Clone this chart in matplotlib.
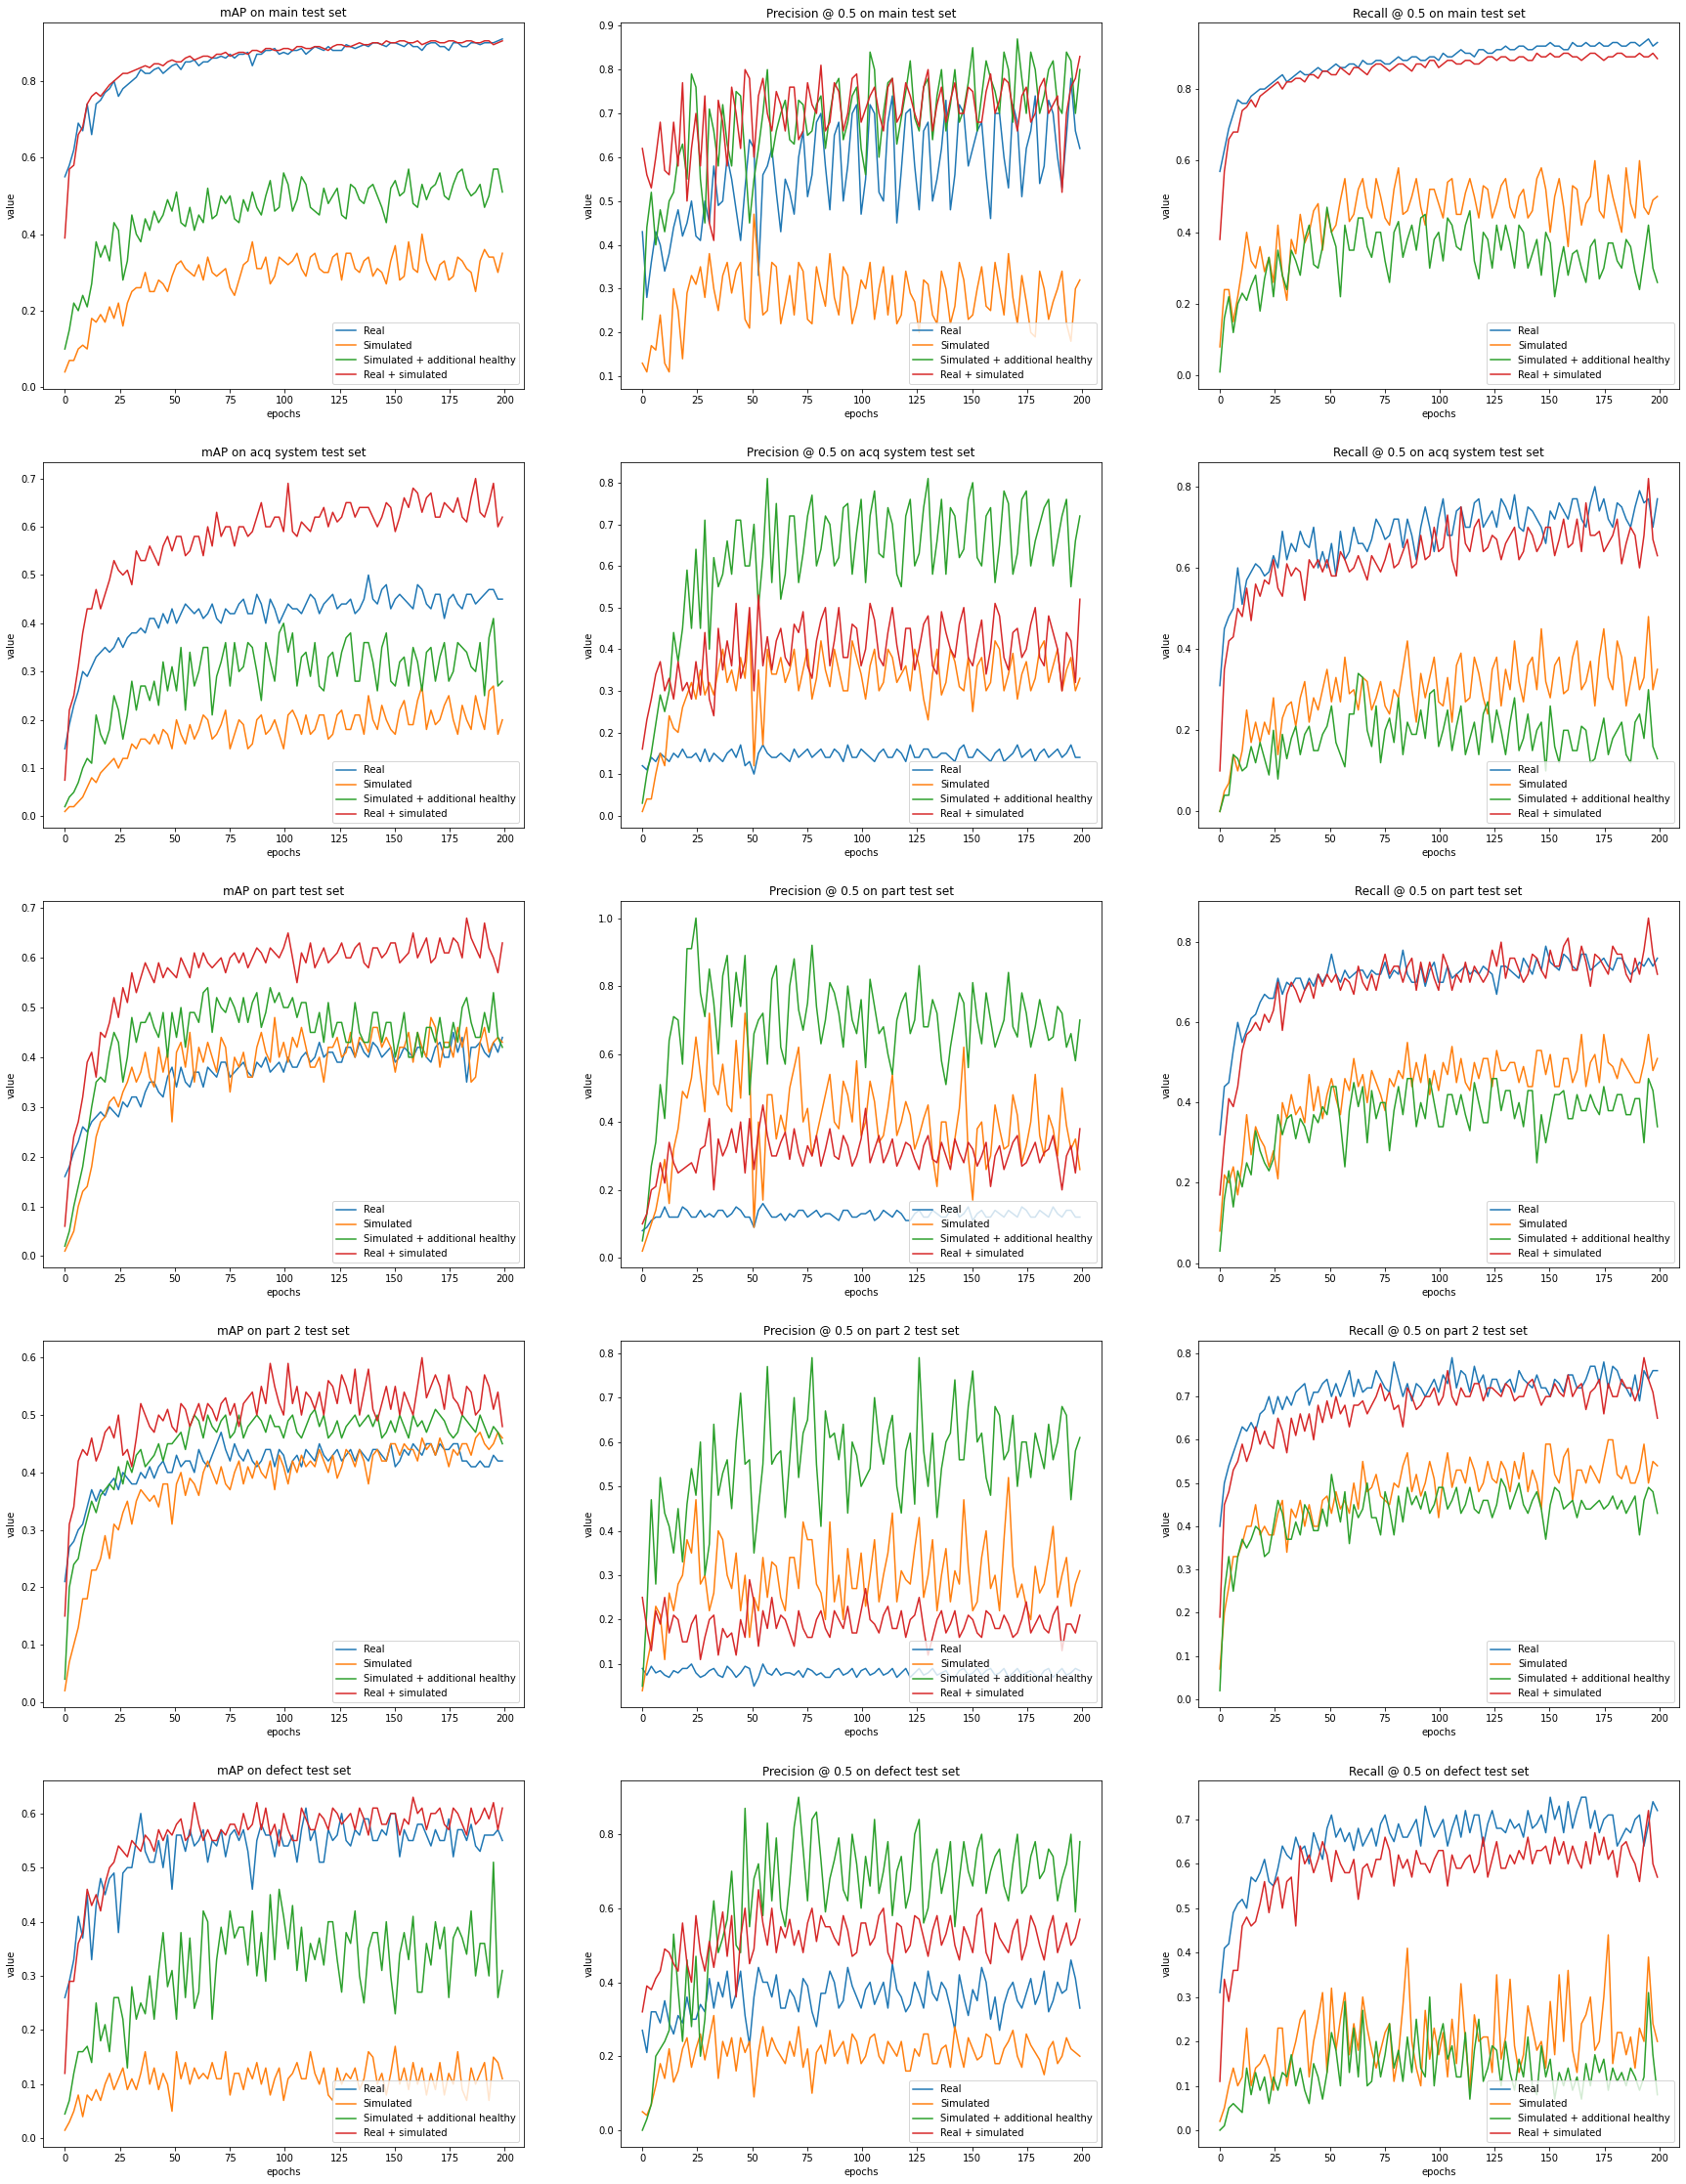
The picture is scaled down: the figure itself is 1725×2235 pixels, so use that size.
import numpy as np
import matplotlib
matplotlib.use('Agg')
import matplotlib.pyplot as plt

# values in percent. plain lists are read every ~4 epochs (0, 4, 8 .. 199),
# the *_mid lists are the readings that fall in between (2, 6, 10 .. 197)
labels = ['Real', 'Simulated', 'Simulated + additional healthy', 'Real + simulated']
test_sets = ['main', 'acq system', 'part', 'part 2', 'defect']

## main test set
map_main_real = [55,62,67,66,75,78,76,79,81,82,83,82,84,83,85,84,85,86,86,86,87,84,87,88,87,87,88,87,89,88,88,88,89,89,89,90,89,90,89,89,88,90,89,88,90,89,90,90,90,91]
map_main_real_mid = [58,69,74,74,77,80,78,80,83,82,83.5,83,84.5,85,85.5,85,86,86.5,87,87,87.5,87,88,88.5,87.5,88,88.5,88,88.5,89,88,89.5,88.5,89.5,90,89.5,90,89.5,90,89,89.5,90,89,90,89,90,89.5,90,90.5]
map_main_sim = [4,7,11,18,19,21,22,22,26,30,25,27,29,33,30,32,34,29,31,24,32,38,31,27,34,32,35,29,35,30,34,28,35,30,34,31,27,37,29,31,40,30,32,28,34,31,25,36,34,35]
map_main_sim_mid = [7,10,10,17,17,18,16,25,26,25,28,25,32,31,29,28,30,30,26,28,33,31,34,29,33,33,31,34,31,30,35,35,31,33,29,30,33,28,38,30,33,28,33,29,33,30,33,34,30]
map_main_simh = [10,22,24,27,34,33,41,33,40,44,46,45,46,43,47,45,52,45,48,44,49,51,45,54,47,53,49,53,46,52,50,45,53,49,52,50,43,54,51,48,53,52,56,49,56,52,51,47,57,51]
map_main_simh_mid = [15,20,21,38,37,43,28,45,38,41,43,49,51,42,41,43,44,50,50,43,46,47,50,46,56,46,55,47,45,48,52,44,52,48,53,47,52,50,57,47,49,53,50,53,57,50,53,50,57]
map_main_rs = [39,58,68,76,76,79,81,82,83,84,84.5,84,85.5,85,86.5,86,86.5,87,87.5,87,87.5,88,87.5,88.5,88,88.5,89,88.5,89,88.5,89,89.5,89,90,89.5,90,90.5,90,90.5,90,89.5,90.5,90,90.5,90,90.5,90,90.5,89.5,90.5]
map_main_rs_mid = [57,66,74,77,77.5,80,82,82.5,83.5,83.5,84.5,85,85,86,85.5,86.5,86,87,86.5,87.5,87,88,88.5,88,88.5,88,89,88.5,89,88,89.5,89,89.5,89.5,90,89.5,90,90.5,90,90.5,90,90.5,90,90.5,90,90.5,90,90.5,90]

prec_main_real = [43,36,40,38,48,45,42,50,58,50,55,41,64,33,58,52,55,47,66,56,70,48,68,58,72,55,70,50,74,57,71,48,68,55,73,56,70,62,68,46,70,53,68,62,74,58,70,53,78,62]
prec_main_real_mid = [28,43,34,44,42,50,41,45,49,60,48,53,62,56,62,43,52,60,51,68,58,65,50,70,47,72,52,68,45,70,58,66,50,62,48,72,58,66,56,70,60,72,51,66,54,73,60,65,66]
prec_main_sim = [13,17,24,11,25,29,31,28,30,33,29,36,21,35,25,35,27,24,34,22,30,38,24,33,26,30,23,35,33,24,29,20,31,22,30,26,32,24,35,25,30,38,22,27,19,30,27,34,18,32]
prec_main_sim_mid = [11,16,13,30,14,33,35,38,25,36,34,23,47,24,36,22,33,36,23,35,26,28,35,22,32,36,30,24,22,34,27,32,24,34,22,36,23,30,26,36,24,28,33,20,34,23,30,22,30]
prec_main_simh = [23,52,48,50,60,55,76,45,66,72,58,74,45,62,80,66,73,63,72,66,74,70,78,68,76,56,80,70,78,69,82,66,78,74,66,80,71,85,74,78,70,80,87,70,80,74,82,70,82,80]
prec_main_simh_mid = [44,40,43,52,63,79,55,71,58,63,75,60,55,70,60,70,64,73,65,72,62,76,64,74,62,84,60,77,63,75,69,76,64,80,72,68,77,66,82,75,84,68,78,84,70,80,72,84,70]
prec_main_rs = [62,53,68,56,58,50,70,74,41,68,76,62,78,74,70,75,66,76,66,72,81,68,75,70,79,71,76,66,78,70,74,67,80,72,68,77,70,75,68,79,73,77,66,76,70,78,72,52,76,83]
prec_main_rs_mid = [56,60,57,68,77,62,58,45,73,58,70,80,60,78,66,72,76,64,77,70,66,77,66,78,68,74,70,76,68,77,70,76,66,76,73,70,76,68,75,70,78,71,74,68,76,70,74,70,78]

rec_main_real = [57,69,77,76,79,80,82,84,83,85,84,86,85,87,86,87,88,87,88,87,89,88,89,88,89,90,89,91,90,91,90,91,92,91,92,91,92,93,92,91,92,93,92,92,93,92,93,92,94,93]
rec_main_real_mid = [63,73,76,78,80,81,83,82,84,84,85,85,86,86,87,86,87,88,87,88,88,89,88,89,88,89,90,90,89,91,90,91,91,92,91,92,92,92,91,93,92,92,93,92,93,92,93,93,92]
rec_main_sim = [8,24,22,40,30,29,26,28,38,45,40,48,46,42,55,45,55,44,50,42,58,46,55,42,52,44,55,45,55,44,52,48,55,44,52,46,58,40,55,36,52,48,60,44,50,40,48,60,45,50]
rec_main_sim_mid = [24,15,30,32,36,33,42,21,34,37,46,35,40,49,43,52,47,55,44,52,45,50,47,52,48,54,45,51,50,53,44,53,47,50,44,55,52,50,47,53,42,50,46,56,45,58,44,47,49]
rec_main_simh = [1,22,20,21,28,27,22,28,35,28,42,30,47,36,42,35,44,33,40,26,43,38,35,45,38,32,42,35,46,27,38,42,42,30,40,34,28,37,30,28,35,26,38,30,37,30,36,24,42,26]
rec_main_simh_mid = [16,12,23,25,18,33,35,24,32,38,31,36,40,22,35,44,36,40,32,40,33,42,44,30,40,44,36,42,32,40,30,35,37,42,30,38,40,22,36,34,30,36,27,37,32,38,29,33,30]
rec_main_rs = [38,66,68,75,75,79,81,80,82,83,84,83,85,84,85,86,85,86,87,85,87,86,87,86,88,87,88,87,88,87,89,88,89,88,89,88,89,90,89,90,89,89,90,88,89,90,89,90,89,88.5]
rec_main_rs_mid = [57,68,74,77,78,80,82,82,83,82,84,85,84,86,84,86,84,87,86,86,87,85,87,88,86,88,87,88,87,88,89,89,88,89,88,90,89,89,90,89,88,90,89,89,90,89,89,89,90]

## acq system test set
map_acq_real = [14,23,30,31,34,34,37,37,38,38,41,42,43,42,43,43,42,41,43,42,45,42,44,45,40,44,43,44,45,44,46,44,45,43,50,44,48,45,45,43,47,43,46,45,44,46,44,46,47,45]
map_acq_real_mid = [19,26,29,33,35,35,35,38,39,41,39,40,40,44,42,41,44,40,42,44,42,46,40,43,42,43,42,46,42,45,43,44,42,45,45,47,43,46,44,48,44,46,41,46,43,46,45,47,45]
map_acq_sim = [1,2,4,8,9,11,10,12,14,16,17,18,14,17,19,18,20,17,22,17,19,15,21,18,17,21,20,21,18,21,17,22,18,21,25,18,20,17,24,19,27,22,20,25,17,20,25,18,27,20]
map_acq_sim_mid = [2,3,6,7,10,12,12,15,16,15,15,17,20,15,16,21,16,19,14,20,14,20,17,20,14,22,17,17,21,16,21,18,21,17,20,23,18,22,19,24,18,19,23,20,23,18,21,26,17]
map_acq_simh = [2,5,10,11,17,18,22,21,22,27,28,32,31,35,34,30,35,29,36,36,31,35,24,32,38,34,27,34,36,26,34,34,38,28,36,26,38,27,33,35,26,35,33,28,36,34,30,25,41,28]
map_acq_simh_mid = [4,7,12,21,15,25,16,28,27,24,23,26,26,22,27,35,21,32,27,30,36,30,36,28,40,38,33,29,27,33,29,37,28,36,32,35,28,32,27,32,34,28,36,30,35,31,36,37,27]
map_acq_rs = [7.5,25,38,43,43,49,51,51,55,53,54,56,55,58,55,58,60,63,60,56,60,59,65,60,62,69,58,60,62,64,63,62,65,64,64,60,65,59,66,68,63,67,62,64,66,61,70,62,69,62]
map_acq_rs_mid = [22,31,43,47,46,53,50,48,53,56,52,58,58,54,58,54,56,58,60,60,58,62,60,62,59,59,61,59,62,60,61,65,62,64,62,62,64,62,64,67,66,62,65,63,62,66,63,65,60]

prec_acq_real = [12,14,15,13,14,14,15,16,15,13,16,17,13,15,15,14,14,16,15,14,16,14,15,17,14,15,13,16,14,15,17,14,16,14,15,13,17,14,15,13,16,14,17,15,13,16,15,14,17,14]
prec_acq_real_mid = [11,13,14,15,16,14,13,13,14,15,14,12,10,17,14,15,13,14,16,15,14,16,13,14,16,14,15,14,16,13,14,16,14,15,14,16,14,16,14,15,13,15,14,16,15,14,16,15,14]
prec_acq_sim = [1,4,15,24,20,29,28,29,29,40,35,38,47,35,40,34,32,40,35,28,42,31,35,30,38,28,40,32,38,34,30,36,23,40,32,37,30,25,38,32,40,34,28,37,33,42,36,30,38,33]
prec_acq_sim_mid = [4,10,12,21,26,32,35,32,35,32,30,33,12,17,34,38,35,30,40,33,35,40,30,42,34,36,30,40,32,36,40,28,34,29,40,31,38,36,30,42,30,39,34,30,40,32,40,35,30]
prec_acq_simh = [3,15,29,30,37,59,64,71,62,58,58,71,60,50,81,75,58,72,63,77,64,70,62,75,68,56,78,62,70,55,76,63,81,66,58,72,64,80,60,74,65,75,63,78,66,74,60,72,55,72]
prec_acq_simh_mid = [10,22,25,44,45,45,45,40,55,66,71,60,70,62,56,52,72,56,72,60,72,60,74,58,76,72,63,74,58,72,60,74,58,76,74,62,76,62,72,56,78,58,76,60,70,76,66,76,66]
prec_acq_rs = [16,28,37,33,37,32,37,44,24,35,36,33,50,53,43,42,38,46,49,33,47,36,50,38,45,40,47,36,50,35,45,40,48,34,44,38,50,36,47,40,48,35,45,40,50,36,44,30,42,52]
prec_acq_rs_mid = [23,34,30,28,30,28,29,28,45,42,51,37,30,36,35,45,36,44,36,42,50,42,38,46,36,51,38,44,41,45,35,46,36,49,40,46,38,42,34,51,38,44,38,46,38,48,40,44,32]

rec_acq_real = [31,48,60,57,61,58,63,69,66,69,65,60,60,58,62,70,66,67,70,68,72,72,62,75,64,77,68,75,70,77,72,70,75,78,69,74,70,74,76,72,77,70,80,77,70,75,70,79,77,77]
rec_acq_real_mid = [45,50,51,59,60,59,60,62,64,66,70,64,66,69,64,66,64,72,67,72,65,68,70,70,72,68,74,70,76,70,74,77,72,70,75,72,66,72,74,77,72,76,74,72,76,72,75,76,70]
rec_acq_sim = [0,7,10,25,22,22,28,23,27,28,22,25,35,33,38,30,33,25,32,24,28,42,22,28,38,26,22,39,28,34,24,38,35,42,27,38,45,28,38,30,42,32,26,45,30,38,32,30,48,35]
rec_acq_sim_mid = [5,14,15,17,17,19,14,26,21,32,28,30,27,27,29,25,32,28,26,30,35,30,34,33,27,33,36,27,38,28,35,26,30,32,36,30,32,36,29,38,30,37,38,33,42,26,38,33,30]
rec_acq_simh = [0,4,13,11,12,13,20,19,18,14,21,15,21,17,11,24,33,16,12,23,28,22,19,18,30,20,15,26,18,14,27,25,14,28,18,15,22,26,12,20,15,20,13,23,18,22,12,24,30,13]
rec_acq_simh_mid = [4,14,10,16,17,9,8,13,21,19,15,19,26,14,24,34,20,26,20,17,14,19,25,29,16,25,21,14,22,24,17,20,22,15,24,20,10,16,20,15,21,12,18,14,20,14,22,18,16]
rec_acq_rs = [10,42,50,55,56,57,62,53,58,59,62,62,62,58,62,60,60,63,59,66,61,67,61,62,70,65,62,75,64,72,65,67,66,70,64,68,66,70,67,65,72,76,68,64,68,61,70,60,82,63]
rec_acq_rs_mid = [35,43,48,47,53,56,55,61,60,52,60,59,58,64,59,63,57,61,62,60,64,60,68,63,64,73,58,66,70,64,68,62,68,62,70,64,70,63,72,66,64,68,69,66,72,66,68,68,67]

## part test set
map_part_real = [16,21,26,27,29,30,28,30,32,33,35,32,38,38,34,37,38,36,39,37,39,36,38,37,39,40,38,41,40,40,41,39,42,43,40,42,41,39,42,40,42,39,43,40,41,35,42,41,43,44]
map_part_real_mid = [18,23,25,28,28,29,31,32,30,35,33,36,34,35,37,34,37,39,36,38,37,39,40,38,37,38,40,39,43,41,39,42,40,41,43,40,42,40,41,42,40,42,40,45,44,42,43,40,41]
map_part_sim = [1,5,13,18,27,31,30,35,35,41,34,37,27,43,45,42,43,37,42,40,41,36,45,39,40,39,42,42,38,35,42,40,45,44,41,46,44,37,42,39,42,48,38,43,46,46,36,46,43,43]
map_part_sim_mid = [3,10,14,24,28,32,33,38,37,36,42,41,41,38,35,39,40,44,33,38,36,42,41,48,43,44,46,38,40,42,44,41,40,43,46,42,42,42,45,45,40,46,43,40,42,35,43,41,44]
map_part_simh = [2,10,18,30,36,41,43,40,43,47,46,49,49,50,49,47,54,52,49,50,52,51,46,54,53,50,48,51,45,43,44,47,43,45,43,49,47,40,49,40,40,46,48,42,43,52,44,49,53,42]
map_part_simh_mid = [5,14,24,35,35,45,35,48,47,49,44,40,44,42,49,53,45,50,52,47,47,53,49,51,50,52,51,45,49,51,47,43,51,43,49,43,47,44,40,45,46,43,42,47,50,47,44,45,44]
map_part_rs = [6,24,32,41,45,47,48,51,53,59,55,56,57,60,56,58,59,59,57,61,61,60,61,62,60,65,55,59,58,62,60,63,60,63,58,62,61,63,60,65,62,59,64,61,63,68,62,67,60,63]
map_part_rs_mid = [17,27,39,36,44,52,54,57,56,57,59,58,56,58,61,61,58,60,60,59,58,62,59,61,62,60,61,63,60,59,61,60,62,59,62,60,63,59,61,60,64,60,61,64,60,64,60,62,57]

prec_part_real = [8,11,12,12,12,14,12,12,12,14,13,14,12,14,14,12,11,12,14,13,12,13,11,14,12,13,11,14,12,13,11,14,12,13,12,15,13,11,14,12,13,14,12,14,12,13,15,12,14,12]
prec_part_real_mid = [9,12,15,12,15,12,14,13,14,12,15,12,9,16,12,13,13,14,12,14,13,12,14,12,13,14,12,13,14,11,13,12,14,12,14,12,15,13,12,14,12,13,15,12,14,12,13,14,12]
prec_part_sim = [2,10,21,16,38,47,65,43,51,57,43,47,58,40,48,35,37,56,40,30,42,54,38,48,58,40,46,36,54,40,42,36,45,21,40,35,62,17,40,30,38,33,42,33,54,30,38,50,32,26]
prec_part_sim_mid = [6,14,29,32,49,53,54,72,48,45,64,72,9,17,48,42,50,62,44,36,48,40,52,40,36,52,34,44,36,46,32,41,30,40,28,44,30,38,26,45,32,48,28,40,36,42,30,39,35]
prec_part_simh = [5,27,51,64,70,91,100,71,75,83,68,74,48,70,57,86,57,88,67,92,63,81,72,80,66,56,74,68,54,75,66,86,68,72,51,70,75,81,63,70,66,84,65,72,68,70,65,72,66,70]
prec_part_simh_mid = [13,34,41,71,57,91,78,85,60,89,84,89,66,72,82,62,80,73,75,74,70,78,62,70,76,82,66,60,70,78,70,68,76,58,62,78,56,70,78,62,70,68,78,62,76,64,74,62,58]
prec_part_rs = [10,20,28,34,25,27,25,33,20,30,38,40,41,37,36,30,37,38,27,30,27,38,29,33,30,44,32,28,35,30,33,26,36,28,30,35,28,32,30,21,33,30,36,28,34,31,36,20,33,38]
prec_part_rs_mid = [13,21,22,28,26,28,32,41,35,33,31,25,26,45,30,34,29,31,33,36,32,30,36,27,35,28,36,31,27,34,29,33,29,34,26,31,34,27,34,30,26,34,27,31,28,32,29,30,25]

rec_part_real = [32,45,60,58,62,67,66,67,69,71,71,72,72,72,73,72,73,73,72,71,72,72,70,69,75,70,71,73,72,72,73,67,74,72,76,72,73,75,73,76,73,77,74,76,73,76,72,75,76,76]
rec_part_real_mid = [44,53,55,61,65,66,71,70,71,68,69,70,77,70,71,73,71,72,75,73,78,70,74,73,70,74,72,74,73,74,72,74,73,71,74,76,79,74,77,74,77,73,75,74,76,74,73,74,74]
rec_part_sim = [8,20,17,37,34,29,28,40,42,39,47,44,42,41,46,51,47,48,42,46,48,55,50,52,48,50,54,51,43,46,51,53,48,50,49,44,53,52,44,51,48,44,52,57,49,51,47,45,57,51]
rec_part_sim_mid = [22,24,25,27,31,24,21,36,37,35,38,36,46,37,43,44,40,45,38,44,46,44,45,42,43,47,45,45,50,51,44,48,50,45,44,53,47,44,51,45,57,50,45,50,46,49,45,50,48]
rec_part_simh = [3,23,23,25,33,25,26,32,37,36,30,35,37,44,24,45,44,43,40,28,44,46,34,36,40,34,42,42,33,40,35,46,43,36,34,43,37,36,42,36,42,38,39,44,38,42,37,41,46,34]
rec_part_simh_mid = [16,14,19,22,28,23,37,36,31,34,37,39,44,35,38,39,30,36,40,38,37,46,40,46,34,42,37,37,45,35,46,38,43,40,43,25,30,42,43,36,38,42,37,38,42,37,41,30,43]
rec_part_rs = [17,41,44,57,60,62,63,58,70,65,70,72,72,72,71,67,70,72,73,72,74,74,68,70,71,77,68,70,70,72,72,74,71,76,70,77,73,78,74,81,73,75,77,74,79,77,70,72,86,72]
rec_part_rs_mid = [30,39,53,58,58,60,70,67,68,68,66,69,70,68,70,74,68,68,77,74,70,76,75,75,68,74,72,75,74,70,78,80,76,73,72,76,71,74,79,73,79,69,76,72,77,72,76,78,77]

## part 2 test set
map_part2_real = [21,28,31,37,37,38,37,39,38,39,39,42,40,41,42,44,41,45,44,45,42,42,42,44,44,40,43,44,42,43,43,42,44,44,42,44,42,41,44,45,43,45,45,44,45,42,41,41,43,42]
map_part2_real_mid = [27,30,34,35,36,39,40,38,40,41,41,40,43,42,40,42,43,47,42,43,44,41,44,41,43,42,41,43,45,42,44,43,42,43,44,43,45,42,43,44,45,43,44,45,42,41,42,41,42]
map_part2_sim = [2,10,18,23,25,25,30,35,35,36,36,38,31,40,39,36,42,38,38,40,38,39,40,42,43,38,40,41,41,42,43,41,43,44,38,44,42,45,45,44,46,45,46,41,43,45,46,45,45,46]
map_part2_sim_mid = [7,13,18,23,29,31,33,31,37,35,34,38,38,36,38,40,40,41,37,42,41,42,39,37,41,42,43,42,44,40,39,44,41,42,43,42,45,43,44,42,44,43,44,44,45,43,47,44,47]
map_part2_simh = [4,24,29,35,36,38,41,42,43,41,43,42,45,47,48,49,50,47,50,47,46,49,49,50,48,49,47,48,51,50,47,46,49,48,50,50,47,47,48,50,49,49,50,47,47,49,47,48,48,45]
map_part2_simh_mid = [20,25,32,33,37,37,38,40,44,42,45,45,46,44,50,46,48,49,46,50,48,50,47,48,46,50,46,50,48,46,49,48,50,49,48,46,49,50,46,48,47,51,49,46,50,48,50,46,47]
map_part2_rs = [15,34,44,46,44,48,50,44,46,50,47,49,48,52,48,52,52,49,53,52,52,54,55,59,52,59,55,54,51,50,55,57,52,50,58,49,55,55,54,50,60,55,55,57,52,55,50,57,51,48]
map_part2_rs_mid = [31,42,43,42,47,46,43,41,52,48,50,51,47,51,50,49,51,52,50,48,53,50,52,55,50,52,50,53,54,56,52,55,58,54,51,52,51,50,52,55,53,57,51,53,50,54,51,55,54]

prec_part2_real = [9,9.5,8.5,7,8,9,8,7.5,9,7,8.5,8,9,7,8,9,8,7.5,7,8.5,8,7,9,8,7,9,8,7.5,9,8,7,9,8,7.5,8.5,7,9,8,7.5,9,8,7,9,8,7.5,8.5,7,9,8,8.5]
prec_part2_real_mid = [7.5,8,7.5,8.5,9,10,7,8.5,7.5,9.5,7,9.5,5,10,7.5,7.5,8,8.5,9,7.5,7,8.5,7.5,9,8.5,7.5,9,8,7,9,8,7.5,9,8,7,8.5,7.5,9,8.5,7.5,9,8,7.5,8.5,7,9,8,7.5,9]
prec_part2_sim = [4,15,21,26,28,38,47,30,26,38,27,22,16,22,25,32,22,34,42,38,26,42,30,36,27,23,38,30,44,31,28,43,30,22,36,31,47,22,34,27,22,52,25,23,32,28,41,30,23,31]
prec_part2_sim_mid = [10,23,11,22,30,35,28,22,40,30,35,30,25,34,33,25,34,27,38,28,20,24,20,27,35,30,24,35,24,29,36,25,38,30,24,28,32,24,40,30,38,32,28,20,26,34,25,34,28]
prec_part2_simh = [5,47,52,41,45,46,48,30,64,53,45,71,56,45,77,57,43,70,62,79,41,61,56,44,57,52,70,55,66,44,62,79,50,43,60,74,56,76,62,48,66,58,50,60,62,54,56,68,47,61]
prec_part2_simh_mid = [22,28,44,35,33,54,60,37,48,56,60,55,35,55,55,58,56,52,65,55,67,62,64,60,50,54,60,62,50,58,46,58,62,54,62,56,68,60,52,68,56,66,60,52,58,64,60,66,58]
prec_part2_rs = [25,13,19,17,20,15,21,16,21,18,17,20,29,14,18,18,20,14,18,16,22,16,20,23,17,27,19,21,18,22,20,25,12,20,17,22,18,20,16,21,18,19,17,24,19,18,21,13,19,21]
prec_part2_rs_mid = [18,22,25,21,15,19,11,20,12,16,12,16,24,22,25,21,17,22,16,20,18,22,18,17,22,20,17,23,18,16,21,18,16,22,19,16,21,17,22,18,21,16,20,17,21,17,23,19,17]

rec_part2_real = [40,54,60,62,62,67,66,67,68,72,68,71,74,73,73,70,71,72,74,71,74,73,73,70,74,75,79,76,71,73,70,74,73,71,74,72,72,70,73,75,72,74,77,78,77,73,70,69,74,76]
rec_part2_real_mid = [50,57,63,64,66,70,70,70,71,73,71,73,70,70,76,74,72,76,72,78,70,69,72,72,71,73,72,75,77,75,74,71,74,76,73,75,72,74,71,75,72,77,73,72,76,72,75,76,76]
rec_part2_sim = [7,26,33,40,45,40,38,46,44,46,45,40,47,48,46,50,55,49,47,45,49,57,52,50,51,51,49,53,56,48,55,50,53,55,57,53,44,59,50,58,53,50,52,55,60,51,50,53,50,54]
rec_part2_sim_mid = [20,33,36,40,38,38,43,34,42,40,40,46,43,44,43,44,48,52,46,50,54,48,47,55,42,57,53,50,53,50,51,55,48,51,48,50,59,52,56,46,53,54,50,60,52,54,50,59,55]
rec_part2_simh = [2,33,33,35,40,33,40,43,37,38,43,39,40,46,48,45,44,42,38,44,47,49,47,48,45,49,46,43,49,43,46,45,49,47,45,46,44,45,48,45,42,44,45,44,47,46,45,38,49,43]
rec_part2_simh_mid = [25,25,37,37,39,34,46,37,41,45,39,44,52,41,36,42,50,42,48,38,41,45,44,43,49,44,49,45,44,46,42,51,44,50,43,48,37,49,44,46,46,44,46,45,44,43,47,46,48]
rec_part2_rs = [19,48,55,55,63,62,58,62,65,66,66,68,69,70,68,68,69,68,73,71,68,72,67,70,72,70,70,72,70,73,72,71,73,69,70,74,68,70,71,75,72,67,72,66,70,74,72,72,74,65]
rec_part2_rs_mid = [45,53,59,58,59,59,65,57,61,62,60,64,65,66,63,68,66,70,69,67,63,70,68,70,68,76,68,70,73,69,72,70,72,70,73,71,70,73,70,70,73,71,74,73,70,72,69,79,71]

## defect test set
map_defect_real = [26,33,37,33,48,48,38,50,55,53,51,50,46,56,57,55,51,54,52,57,57,46,58,56,57,54,51,61,57,51,55,60,54,56,59,55,56,60,57,55,58,54,55,59,57,55,54,56,56,55]
map_defect_real_mid = [29,41,45,43,45,49,49,50,60,51,55,56,56,53,54,57,55,57,56,55,53,55,56,52,54,56,57,55,51,57,56,55,57,59,55,57,60,52,55,58,56,57,55,52,57,58,53,56,57]
map_defect_sim = [1.5,5,4,7,7,12,11,9,9,16,13,12,5,11,10,11,11,11,16,12,9,11,10,8,13,11,14,11,12,13,7,10,11,9,16,10,8,17,13,14,13,12,14,12,16,7,10,14,15,11]
map_defect_sim_mid = [3,8,8,9,10,9,13,11,12,10,9,10,16,14,13,12,14,11,8,12,13,14,13,11,7,12,11,16,10,8,13,12,13,11,15,12,12,10,9,10,8,9,8,10,9,13,12,7,14]
map_defect_simh = [4.5,12,16,14,18,16,26,13,22,23,22,38,31,38,37,27,40,33,34,37,39,42,38,45,46,35,31,29,33,32,40,27,36,30,35,38,40,23,38,41,27,32,35,26,39,34,30,36,51,31]
map_defect_simh_mid = [7,16,17,25,21,26,22,28,25,30,31,28,22,26,24,42,22,39,42,39,32,30,29,33,41,43,39,36,37,40,33,38,42,25,38,31,30,34,33,27,36,40,39,37,37,42,36,30,26]
map_defect_rs = [12,29,38,43,42,50,54,52,54,56,53,55,56,59,56,58,57,55,56,58,60,58,57,56,54,57,55,59,57,59,61,58,60,61,56,61,58,60,59,63,61,60,61,57,60,56,58,61,62,61]
map_defect_rs_mid = [29,36,46,45,47,51,53,55,53,55,57,57,58,55,62,55,55,57,58,56,57,62,61,58,60,55,61,57,60,57,60,59,57,59,61,58,60,56,58,60,57,60,58,61,58,61,59,59,57]

prec_defect_real = [27,32,29,29,31,36,30,32,33,36,33,43,23,44,40,42,33,36,41,32,37,43,33,44,36,38,34,40,45,36,34,37,43,35,38,27,36,38,44,30,27,38,35,37,34,43,35,37,46,33]
prec_defect_real_mid = [21,32,35,26,29,30,34,41,40,43,37,31,36,40,36,33,38,32,39,28,37,40,35,39,33,40,37,33,38,32,40,33,37,40,33,42,31,35,40,36,34,40,33,41,37,32,40,38,41]
prec_defect_sim = [5,7,18,22,16,25,22,19,31,24,25,25,24,21,20,22,18,20,17,10,23,27,22,18,24,20,26,18,22,24,16,20,26,18,23,28,17,22,20,25,18,24,20,26,21,15,24,20,22,20]
prec_defect_sim_mid = [4,12,14,13,22,17,26,25,14,20,16,21,9,28,25,20,24,28,22,21,18,20,24,26,18,25,20,24,20,16,22,26,18,22,17,22,25,19,26,18,22,27,17,23,19,22,18,25,21]
prec_defect_simh = [0,7,22,27,38,46,47,30,62,52,70,48,55,72,83,79,55,82,76,84,73,68,79,62,72,74,84,70,58,74,65,84,60,76,70,55,78,66,80,70,76,62,80,66,78,70,74,68,80,78]
prec_defect_simh_mid = [3,20,24,53,24,28,20,50,48,57,50,87,68,58,62,60,67,90,62,86,59,73,65,80,60,66,64,78,70,60,80,56,72,64,78,68,70,76,64,74,66,72,64,74,68,76,62,72,59]
prec_defect_rs = [32,38,43,48,43,45,58,43,44,59,58,52,45,65,50,48,52,50,48,60,58,55,50,54,48,56,52,60,45,55,50,57,47,58,53,50,55,48,60,45,52,48,57,50,55,46,58,52,50,57]
prec_defect_rs_mid = [39,41,49,45,56,40,48,51,52,47,36,60,49,56,60,55,57,54,56,51,55,52,58,47,56,50,58,48,56,48,58,52,54,50,58,46,52,58,48,56,50,54,46,58,50,54,48,56,52]

rec_defect_real = [31,42,51,50,56,61,55,64,61,63,60,64,68,66,65,63,64,68,69,67,69,66,70,73,66,70,68,66,67,71,69,68,67,68,66,68,71,75,73,74,72,75,72,70,71,66,67,71,69,72]
rec_defect_real_mid = [41,49,52,57,58,56,59,62,66,64,67,61,71,68,67,68,66,64,71,65,66,68,64,69,68,64,71,72,71,64,72,68,70,69,72,69,67,70,67,68,75,68,67,71,64,68,70,64,74]
rec_defect_sim = [2,10,10,23,14,17,9,23,16,25,12,25,13,18,31,24,30,18,18,24,17,41,14,27,23,22,25,33,9,20,21,35,21,19,17,23,20,29,35,36,13,26,18,30,15,22,21,23,39,20]
rec_defect_sim_mid = [5,14,12,10,15,14,23,10,20,27,20,31,32,25,17,18,23,14,22,11,28,20,10,16,17,12,15,20,26,21,13,16,34,13,28,18,14,17,20,18,24,30,20,44,22,17,14,20,24]
rec_defect_simh = [0,5,5,14,13,12,12,13,17,14,6,12,13,18,29,23,27,11,12,24,18,21,25,12,10,24,19,12,7,25,14,18,20,9,12,10,19,16,13,14,12,15,17,16,14,13,14,9,31,8]
rec_defect_simh_mid = [1,6,4,8,9,6,9,12,10,9,15,7,22,10,13,12,10,20,17,14,11,13,14,30,20,16,12,22,18,11,19,10,13,16,21,8,12,7,10,9,7,10,13,9,11,10,12,12,17]
rec_defect_rs = [11,29,36,48,47,56,55,50,57,64,62,61,62,63,58,61,59,57,61,63,62,61,63,60,61,63,62,59,62,60,57,65,59,60,61,60,63,60,62,60,61,65,67,66,63,64,62,56,72,57]
rec_defect_rs_mid = [34,36,46,46,51,49,57,56,46,60,58,65,56,60,58,52,60,61,66,55,59,57,60,58,63,55,59,61,58,66,61,59,62,63,66,63,64,66,65,64,59,60,62,61,57,65,60,65,60]


def weave(coarse, mid):
    # put the in-between readings back between the coarse ones
    out = []
    for i, v in enumerate(coarse):
        out.append(v)
        if i < len(mid) and i < len(coarse) - 1:
            out.append(mid[i])
    return out


g = globals()
metrics = [('map', 'mAP on {} test set'),
           ('prec', 'Precision @ 0.5 on {} test set'),
           ('rec', 'Recall @ 0.5 on {} test set')]
keys = ['main', 'acq', 'part', 'part2', 'defect']
runs = ['real', 'sim', 'simh', 'rs']

# saved at 72 dpi, like the original notebook figure
fig, axes = plt.subplots(5, 3, figsize=(1725 / 72., 2235 / 72.))
fig.subplots_adjust(left=0.0255, right=0.996, top=0.9898, bottom=0.017, wspace=0.2, hspace=0.2)

for r, name in enumerate(test_sets):
    for c, (m, title) in enumerate(metrics):
        ax = axes[r, c]
        for run, lab in zip(runs, labels):
            var = '%s_%s_%s' % (m, keys[r], run)
            y = np.array(weave(g[var], g[var + '_mid'])) / 100.
            x = np.linspace(0, 199, len(y))
            ax.plot(x, y, label=lab)
        ax.set_title(title.format(name))
        ax.set_xlabel('epochs')
        ax.set_ylabel('value')
        ax.legend(loc='lower right')

fig.savefig('out.png', dpi=72)
